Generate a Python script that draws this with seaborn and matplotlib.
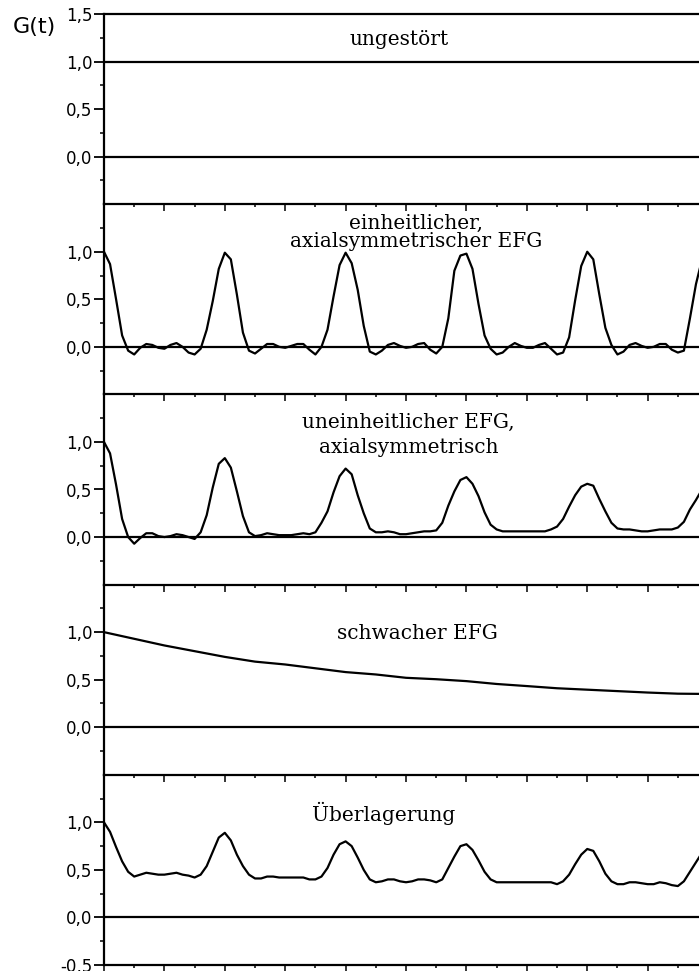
import numpy as np
import matplotlib
matplotlib.use("Agg")
import matplotlib.pyplot as plt
from matplotlib.ticker import FixedLocator, MultipleLocator, FuncFormatter, NullFormatter
import seaborn as sns

# time axis (arbitrary units, one tick = 1)
t = np.round(np.arange(100) * 0.2, 1)
t_slow = np.arange(21)
t_flat = [0.0, 19.8]

ungestoert = [1.0, 1.0]

einheitlich = [
    1.00, 0.87, 0.50, 0.12, -0.04, -0.08, -0.01, 0.03, 0.02, -0.01, -0.02, 0.02, 0.04, 0.00, -0.06, -0.08, -0.02, 0.18, 0.48, 0.82,
    0.99, 0.92, 0.55, 0.15, -0.04, -0.07, -0.02, 0.03, 0.03, 0.00, -0.01, 0.01, 0.03, 0.03, -0.03, -0.08, 0.00, 0.18, 0.53, 0.86,
    0.99, 0.88, 0.60, 0.22, -0.05, -0.08, -0.04, 0.02, 0.04, 0.01, -0.01, 0.00, 0.03, 0.04, -0.03, -0.07, 0.00, 0.30, 0.80, 0.96,
    0.98, 0.82, 0.45, 0.12, -0.02, -0.08, -0.06, 0.00, 0.04, 0.01, -0.01, -0.01, 0.02, 0.04, -0.02, -0.08, -0.06, 0.10, 0.49, 0.85,
    1.00, 0.92, 0.55, 0.20, 0.02, -0.08, -0.05, 0.02, 0.04, 0.01, -0.01, 0.00, 0.03, 0.03, -0.03, -0.06, -0.04, 0.30, 0.66, 0.92,
]

uneinheitlich = [
    1.00, 0.88, 0.55, 0.19, 0.00, -0.07, -0.01, 0.04, 0.04, 0.01, 0.00, 0.01, 0.03, 0.02, 0.00, -0.02, 0.05, 0.23, 0.52, 0.77,
    0.83, 0.73, 0.48, 0.22, 0.05, 0.01, 0.02, 0.04, 0.03, 0.02, 0.02, 0.02, 0.03, 0.04, 0.03, 0.05, 0.15, 0.27, 0.47, 0.64,
    0.72, 0.66, 0.44, 0.25, 0.09, 0.05, 0.05, 0.06, 0.05, 0.03, 0.03, 0.04, 0.05, 0.06, 0.06, 0.07, 0.15, 0.33, 0.48, 0.60,
    0.63, 0.56, 0.43, 0.26, 0.13, 0.08, 0.06, 0.06, 0.06, 0.06, 0.06, 0.06, 0.06, 0.06, 0.08, 0.11, 0.19, 0.32, 0.44, 0.53,
    0.56, 0.54, 0.40, 0.27, 0.15, 0.09, 0.08, 0.08, 0.07, 0.06, 0.06, 0.07, 0.08, 0.08, 0.08, 0.10, 0.16, 0.29, 0.39, 0.50,
]

schwach = [1.00, 0.93, 0.86, 0.80, 0.74, 0.69, 0.66, 0.62, 0.58, 0.555, 0.52,
           0.505, 0.485, 0.455, 0.433, 0.41, 0.395, 0.38, 0.365, 0.353, 0.35]

ueberlagerung = [
    1.00, 0.90, 0.74, 0.59, 0.48, 0.43, 0.45, 0.47, 0.46, 0.45, 0.45, 0.46, 0.47, 0.45, 0.44, 0.42, 0.45, 0.54, 0.69, 0.84,
    0.89, 0.81, 0.66, 0.54, 0.45, 0.41, 0.41, 0.43, 0.43, 0.42, 0.42, 0.42, 0.42, 0.42, 0.40, 0.40, 0.43, 0.52, 0.66, 0.77,
    0.80, 0.75, 0.63, 0.50, 0.40, 0.37, 0.38, 0.40, 0.40, 0.38, 0.37, 0.38, 0.40, 0.40, 0.39, 0.37, 0.40, 0.52, 0.64, 0.75,
    0.77, 0.71, 0.60, 0.48, 0.40, 0.37, 0.37, 0.37, 0.37, 0.37, 0.37, 0.37, 0.37, 0.37, 0.37, 0.35, 0.38, 0.45, 0.56, 0.66,
    0.72, 0.70, 0.59, 0.46, 0.38, 0.35, 0.35, 0.37, 0.37, 0.36, 0.35, 0.35, 0.37, 0.36, 0.34, 0.33, 0.38, 0.48, 0.58, 0.68,
]

# panel captions: (text, x centre, y of the last line's baseline, line spacing)
captions = [
    ("ungestört", 9.77, 1.17, 1.0),
    ("einheitlicher,\naxialsymmetrischer EFG", 10.33, 1.055, 0.92),
    ("uneinheitlicher EFG,\naxialsymmetrisch", 10.08, 0.88, 1.45),
    ("schwacher EFG", 10.38, 0.93, 1.0),
    ("Überlagerung", 9.27, 1.01, 1.0),
]

series = [(t_flat, ungestoert), (t, einheitlich), (t, uneinheitlich),
          (t_slow, schwach), (t, ueberlagerung)]

sns.set_theme(style="white")
plt.rcParams["font.family"] = ["DejaVu Sans"]

fig = plt.figure(figsize=(6.99, 9.71), dpi=100)
gs = fig.add_gridspec(5, 1, left=104 / 699, right=1.0,
                      top=1 - 14 / 971, bottom=1 - 965 / 971, hspace=0)

comma = FuncFormatter(lambda v, p: f"{v:.1f}".replace(".", ",").replace("-0,0", "0,0"))

for i, (xs, ys) in enumerate(series):
    ax = fig.add_subplot(gs[i, 0])
    ax.patch.set_visible(False)
    sns.lineplot(x=xs, y=ys, ax=ax, color="black", linewidth=1.6, estimator=None)
    ax.axhline(0.0, color="black", linewidth=1.6)
    ax.set_xlim(0, 19.7)
    ax.set_ylim(-0.5, 1.5)

    majors = [0.0, 0.5, 1.0]
    if i == 0:
        majors = majors + [1.5]
    if i == 4:
        majors = [-0.5] + majors
    ax.yaxis.set_major_locator(FixedLocator(majors))
    ax.yaxis.set_minor_locator(FixedLocator([-0.25, 0.25, 0.75, 1.25]))
    ax.yaxis.set_major_formatter(comma)
    ax.xaxis.set_major_locator(MultipleLocator(2))
    ax.xaxis.set_minor_locator(MultipleLocator(1))
    ax.xaxis.set_major_formatter(NullFormatter())

    ax.tick_params(axis="y", which="major", direction="out", length=7, width=1.3,
                   pad=1.5, labelsize=12, colors="black", left=True)
    ax.tick_params(axis="y", which="minor", direction="out", length=3, width=1.3, left=True)
    ax.tick_params(axis="x", which="major", direction="out", length=5, width=1.3, bottom=True)
    ax.tick_params(axis="x", which="minor", direction="out", length=2, width=1.3, bottom=True)

    for side in ("left", "bottom", "top"):
        ax.spines[side].set_color("black")
        ax.spines[side].set_linewidth(1.6)
    ax.spines["right"].set_visible(False)
    if i > 0:
        ax.spines["top"].set_visible(False)
    ax.set_xlabel("")
    ax.set_ylabel("")

    txt, xc, yb, ls = captions[i]
    ax.text(xc, yb, txt, ha="center", va="baseline", multialignment="center",
            fontsize=14.5, linespacing=ls, family=["DejaVu Serif"], color="black")

fig.text(13 / 699, 1 - 33 / 971, "G(t)", ha="left", va="baseline", fontsize=16, color="black")

fig.savefig("out.png", dpi=100)
